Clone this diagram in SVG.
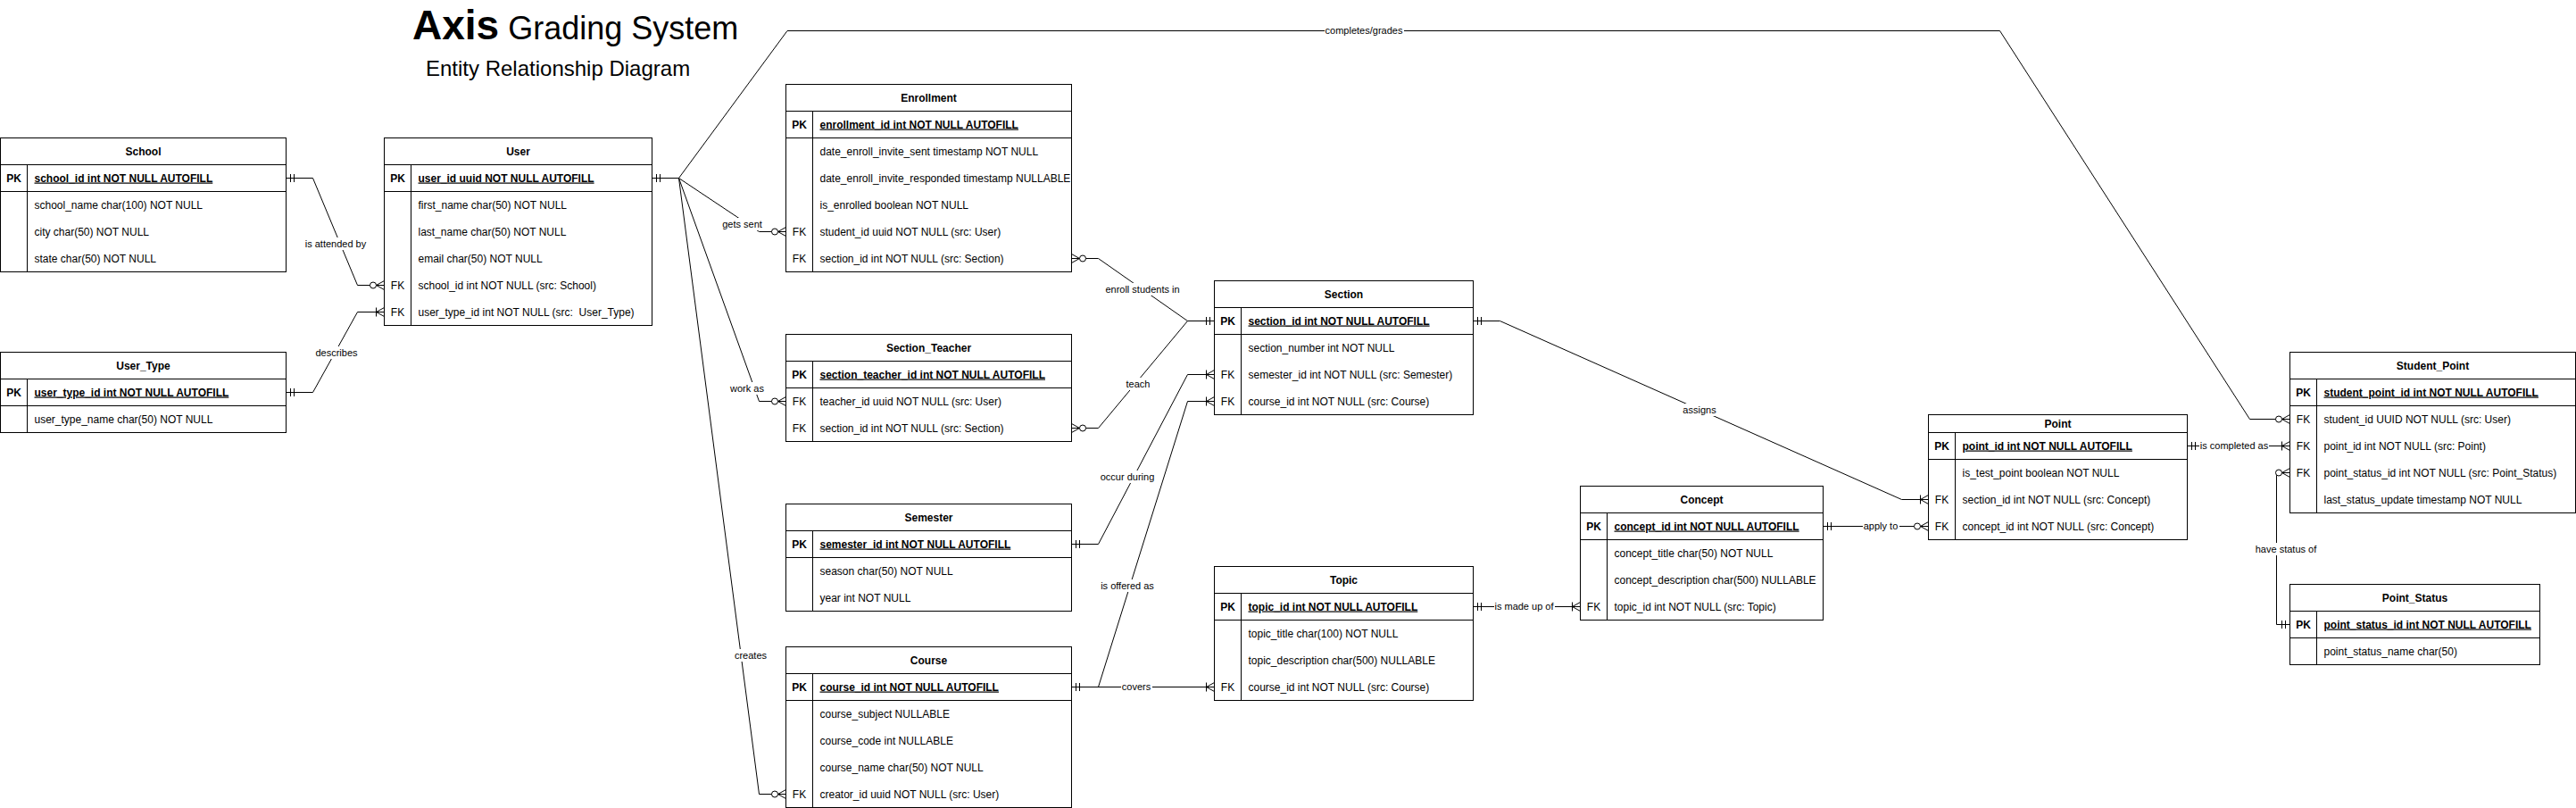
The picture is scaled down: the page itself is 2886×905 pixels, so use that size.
<svg xmlns="http://www.w3.org/2000/svg" width="2886" height="905" viewBox="0 0 2886 905">
<style>
.box{fill:#fff;stroke:#000;stroke-width:1}
.ln{fill:none;stroke:#000;stroke-width:1}
.conn{fill:none;stroke:#000;stroke-width:1}
text{font-family:"Liberation Sans",Arial,Helvetica,sans-serif;fill:#000}
.hd{font-size:12px;font-weight:bold;text-anchor:middle}
.k{font-size:12px;font-weight:bold;text-anchor:middle}
.fk{font-size:12px;text-anchor:middle}
.pk{font-size:12px;font-weight:bold;text-decoration:underline}
.f{font-size:12px;white-space:pre}
.lbl{font-size:11px;text-anchor:middle}
.lb{fill:#fff;stroke:none}
</style>
<defs>
<marker id="mOne" markerUnits="userSpaceOnUse" orient="auto-start-reverse" refX="0" refY="0" markerWidth="20" markerHeight="20" overflow="visible">
<path d="M-5,-4.5V4.5M-9,-4.5V4.5" fill="none" stroke="#000" stroke-width="1"/>
</marker>
<marker id="mZeroMany" markerUnits="userSpaceOnUse" orient="auto-start-reverse" refX="0" refY="0" markerWidth="20" markerHeight="20" overflow="visible">
<path d="M0,-5L-9,0L0,5" fill="none" stroke="#000" stroke-width="1"/>
<circle cx="-12.5" cy="0" r="3.5" fill="#fff" stroke="#000" stroke-width="1"/>
</marker>
<marker id="mOneMany" markerUnits="userSpaceOnUse" orient="auto-start-reverse" refX="0" refY="0" markerWidth="20" markerHeight="20" overflow="visible">
<path d="M0,-5L-9,0L0,5M-9,-5V5" fill="none" stroke="#000" stroke-width="1"/>
</marker>
</defs>

<g id="title">
<text x="462" y="44"><tspan font-size="46" font-weight="bold">Axis</tspan><tspan font-size="36"> Grading System</tspan></text>
<text x="477" y="85" font-size="24">Entity Relationship Diagram</text>
</g>

<g id="connectors">
<path class="conn" d="M320.5,199.5H350.5L400.5,319.5H430.5" marker-start="url(#mOne)" marker-end="url(#mZeroMany)"/>
<path class="conn" d="M320.5,439.5H350.5L400.5,349.5H430.5" marker-start="url(#mOne)" marker-end="url(#mOneMany)"/>
<path class="conn" d="M730.5,199.5H760.5L882,34.5H2240.5L2520.5,469.5H2565.5" marker-start="url(#mOne)" marker-end="url(#mZeroMany)"/>
<path class="conn" d="M730.5,199.5H760.5L850.5,259.5H880.5" marker-start="url(#mOne)" marker-end="url(#mZeroMany)"/>
<path class="conn" d="M730.5,199.5H760.5L850.5,449.5H880.5" marker-start="url(#mOne)" marker-end="url(#mZeroMany)"/>
<path class="conn" d="M730.5,199.5H760.5L850.5,889.5H880.5" marker-start="url(#mOne)" marker-end="url(#mZeroMany)"/>
<path class="conn" d="M1200.5,289.5H1230.5L1330.5,359.5H1360.5" marker-start="url(#mZeroMany)" marker-end="url(#mOne)"/>
<path class="conn" d="M1200.5,479.5H1230.5L1330.5,359.5H1360.5" marker-start="url(#mZeroMany)" marker-end="url(#mOne)"/>
<path class="conn" d="M1200.5,609.5H1230.5L1330.5,419.5H1360.5" marker-start="url(#mOne)" marker-end="url(#mOneMany)"/>
<path class="conn" d="M1200.5,769.5H1230.5L1330.5,449.5H1360.5" marker-start="url(#mOne)" marker-end="url(#mOneMany)"/>
<path class="conn" d="M1200.5,769.5H1360.5" marker-start="url(#mOne)" marker-end="url(#mOneMany)"/>
<path class="conn" d="M1650.5,359.5H1680.5L2130.5,559.5H2160.5" marker-start="url(#mOne)" marker-end="url(#mOneMany)"/>
<path class="conn" d="M1650.5,679.5H1770.5" marker-start="url(#mOne)" marker-end="url(#mOneMany)"/>
<path class="conn" d="M2042.5,589.5H2160.5" marker-start="url(#mOne)" marker-end="url(#mZeroMany)"/>
<path class="conn" d="M2450.5,499.5H2565.5" marker-start="url(#mOne)" marker-end="url(#mOneMany)"/>
<path class="conn" d="M2565.5,699.5H2550.5V529.5H2565.5" marker-start="url(#mOne)" marker-end="url(#mZeroMany)"/>

<rect class="lb" x="341" y="266" width="70" height="14"/><text class="lbl" x="376" y="277">is attended by</text>
<rect class="lb" x="353" y="388" width="49" height="14"/><text class="lbl" x="377" y="399">describes</text>
<rect class="lb" x="1484" y="27" width="89" height="14"/><text class="lbl" x="1528" y="38">completes/grades</text>
<rect class="lb" x="808" y="244" width="47" height="14"/><text class="lbl" x="831.5" y="255">gets sent</text>
<rect class="lb" x="817" y="428" width="40" height="14"/><text class="lbl" x="837" y="439">work as</text>
<rect class="lb" x="823" y="727" width="38" height="14"/><text class="lbl" x="841" y="738">creates</text>
<rect class="lb" x="1238" y="317" width="85" height="14"/><text class="lbl" x="1280" y="328">enroll students in</text>
<rect class="lb" x="1261" y="423" width="29" height="14"/><text class="lbl" x="1275" y="434">teach</text>
<rect class="lb" x="1232" y="527" width="63" height="14"/><text class="lbl" x="1263" y="538">occur during</text>
<rect class="lb" x="1232" y="649" width="62" height="14"/><text class="lbl" x="1263" y="660">is offered as</text>
<rect class="lb" x="1256" y="762" width="35" height="14"/><text class="lbl" x="1273" y="773">covers</text>
<rect class="lb" x="1885" y="452" width="39" height="14"/><text class="lbl" x="1904" y="463">assigns</text>
<rect class="lb" x="1674" y="672" width="68" height="14"/><text class="lbl" x="1707.5" y="683">is made up of</text>
<rect class="lb" x="2087" y="582" width="41" height="14"/><text class="lbl" x="2107" y="593">apply to</text>
<rect class="lb" x="2464" y="492" width="78" height="14"/><text class="lbl" x="2503" y="503">is completed as</text>
<rect class="lb" x="2526" y="608" width="70" height="14"/><text class="lbl" x="2561" y="619">have status of</text>
</g>

<g id="school">
<rect class="box" x="0.5" y="154.5" width="320" height="150"/>
<path class="ln" d="M0.5,184.5H320.5M0.5,214.5H320.5M30.5,184.5V304.5"/>
<text class="hd" x="160.5" y="173.5">School</text>
<text class="k" x="15.5" y="203.5">PK</text>
<text class="pk" x="38.5" y="203.5">school_id int NOT NULL AUTOFILL</text>
<text class="f" x="38.5" y="233.5">school_name char(100) NOT NULL</text>
<text class="f" x="38.5" y="263.5">city char(50) NOT NULL</text>
<text class="f" x="38.5" y="293.5">state char(50) NOT NULL</text>
</g>

<g id="user_type">
<rect class="box" x="0.5" y="394.5" width="320" height="90"/>
<path class="ln" d="M0.5,424.5H320.5M0.5,454.5H320.5M30.5,424.5V484.5"/>
<text class="hd" x="160.5" y="413.5">User_Type</text>
<text class="k" x="15.5" y="443.5">PK</text>
<text class="pk" x="38.5" y="443.5">user_type_id int NOT NULL AUTOFILL</text>
<text class="f" x="38.5" y="473.5">user_type_name char(50) NOT NULL</text>
</g>

<g id="user">
<rect class="box" x="430.5" y="154.5" width="300" height="210"/>
<path class="ln" d="M430.5,184.5H730.5M430.5,214.5H730.5M460.5,184.5V364.5"/>
<text class="hd" x="580.5" y="173.5">User</text>
<text class="k" x="445.5" y="203.5">PK</text>
<text class="pk" x="468.5" y="203.5">user_id uuid NOT NULL AUTOFILL</text>
<text class="f" x="468.5" y="233.5">first_name char(50) NOT NULL</text>
<text class="f" x="468.5" y="263.5">last_name char(50) NOT NULL</text>
<text class="f" x="468.5" y="293.5">email char(50) NOT NULL</text>
<text class="fk" x="445.5" y="323.5">FK</text>
<text class="f" x="468.5" y="323.5">school_id int NOT NULL (src: School)</text>
<text class="fk" x="445.5" y="353.5">FK</text>
<text class="f" x="468.5" y="353.5" xml:space="preserve">user_type_id int NOT NULL (src:  User_Type)</text>
</g>

<g id="enrollment">
<rect class="box" x="880.5" y="94.5" width="320" height="210"/>
<path class="ln" d="M880.5,124.5H1200.5M880.5,154.5H1200.5M910.5,124.5V304.5"/>
<text class="hd" x="1040.5" y="113.5">Enrollment</text>
<text class="k" x="895.5" y="143.5">PK</text>
<text class="pk" x="918.5" y="143.5">enrollment_id int NOT NULL AUTOFILL</text>
<text class="f" x="918.5" y="173.5">date_enroll_invite_sent timestamp NOT NULL</text>
<text class="f" x="918.5" y="203.5">date_enroll_invite_responded timestamp NULLABLE</text>
<text class="f" x="918.5" y="233.5">is_enrolled boolean NOT NULL</text>
<text class="fk" x="895.5" y="263.5">FK</text>
<text class="f" x="918.5" y="263.5">student_id uuid NOT NULL (src: User)</text>
<text class="fk" x="895.5" y="293.5">FK</text>
<text class="f" x="918.5" y="293.5">section_id int NOT NULL (src: Section)</text>
</g>

<g id="section_teacher">
<rect class="box" x="880.5" y="374.5" width="320" height="120"/>
<path class="ln" d="M880.5,404.5H1200.5M880.5,434.5H1200.5M910.5,404.5V494.5"/>
<text class="hd" x="1040.5" y="393.5">Section_Teacher</text>
<text class="k" x="895.5" y="423.5">PK</text>
<text class="pk" x="918.5" y="423.5">section_teacher_id int NOT NULL AUTOFILL</text>
<text class="fk" x="895.5" y="453.5">FK</text>
<text class="f" x="918.5" y="453.5">teacher_id uuid NOT NULL (src: User)</text>
<text class="fk" x="895.5" y="483.5">FK</text>
<text class="f" x="918.5" y="483.5">section_id int NOT NULL (src: Section)</text>
</g>

<g id="semester">
<rect class="box" x="880.5" y="564.5" width="320" height="120"/>
<path class="ln" d="M880.5,594.5H1200.5M880.5,624.5H1200.5M910.5,594.5V684.5"/>
<text class="hd" x="1040.5" y="583.5">Semester</text>
<text class="k" x="895.5" y="613.5">PK</text>
<text class="pk" x="918.5" y="613.5">semester_id int NOT NULL AUTOFILL</text>
<text class="f" x="918.5" y="643.5">season char(50) NOT NULL</text>
<text class="f" x="918.5" y="673.5">year int NOT NULL</text>
</g>

<g id="course">
<rect class="box" x="880.5" y="724.5" width="320" height="180"/>
<path class="ln" d="M880.5,754.5H1200.5M880.5,784.5H1200.5M910.5,754.5V904.5"/>
<text class="hd" x="1040.5" y="743.5">Course</text>
<text class="k" x="895.5" y="773.5">PK</text>
<text class="pk" x="918.5" y="773.5">course_id int NOT NULL AUTOFILL</text>
<text class="f" x="918.5" y="803.5">course_subject NULLABLE</text>
<text class="f" x="918.5" y="833.5">course_code int NULLABLE</text>
<text class="f" x="918.5" y="863.5">course_name char(50) NOT NULL</text>
<text class="fk" x="895.5" y="893.5">FK</text>
<text class="f" x="918.5" y="893.5">creator_id uuid NOT NULL (src: User)</text>
</g>

<g id="section">
<rect class="box" x="1360.5" y="314.5" width="290" height="150"/>
<path class="ln" d="M1360.5,344.5H1650.5M1360.5,374.5H1650.5M1390.5,344.5V464.5"/>
<text class="hd" x="1505.5" y="333.5">Section</text>
<text class="k" x="1375.5" y="363.5">PK</text>
<text class="pk" x="1398.5" y="363.5">section_id int NOT NULL AUTOFILL</text>
<text class="f" x="1398.5" y="393.5">section_number int NOT NULL</text>
<text class="fk" x="1375.5" y="423.5">FK</text>
<text class="f" x="1398.5" y="423.5">semester_id int NOT NULL (src: Semester)</text>
<text class="fk" x="1375.5" y="453.5">FK</text>
<text class="f" x="1398.5" y="453.5">course_id int NOT NULL (src: Course)</text>
</g>

<g id="topic">
<rect class="box" x="1360.5" y="634.5" width="290" height="150"/>
<path class="ln" d="M1360.5,664.5H1650.5M1360.5,694.5H1650.5M1390.5,664.5V784.5"/>
<text class="hd" x="1505.5" y="653.5">Topic</text>
<text class="k" x="1375.5" y="683.5">PK</text>
<text class="pk" x="1398.5" y="683.5">topic_id int NOT NULL AUTOFILL</text>
<text class="f" x="1398.5" y="713.5">topic_title char(100) NOT NULL</text>
<text class="f" x="1398.5" y="743.5">topic_description char(500) NULLABLE</text>
<text class="fk" x="1375.5" y="773.5">FK</text>
<text class="f" x="1398.5" y="773.5">course_id int NOT NULL (src: Course)</text>
</g>

<g id="concept">
<rect class="box" x="1770.5" y="544.5" width="272" height="150"/>
<path class="ln" d="M1770.5,574.5H2042.5M1770.5,604.5H2042.5M1800.5,574.5V694.5"/>
<text class="hd" x="1906.5" y="563.5">Concept</text>
<text class="k" x="1785.5" y="593.5">PK</text>
<text class="pk" x="1808.5" y="593.5">concept_id int NOT NULL AUTOFILL</text>
<text class="f" x="1808.5" y="623.5">concept_title char(50) NOT NULL</text>
<text class="f" x="1808.5" y="653.5">concept_description char(500) NULLABLE</text>
<text class="fk" x="1785.5" y="683.5">FK</text>
<text class="f" x="1808.5" y="683.5">topic_id int NOT NULL (src: Topic)</text>
</g>

<g id="point">
<rect class="box" x="2160.5" y="464.5" width="290" height="140"/>
<path class="ln" d="M2160.5,484.5H2450.5M2160.5,514.5H2450.5M2190.5,484.5V604.5"/>
<text class="hd" x="2305.5" y="478.5">Point</text>
<text class="k" x="2175.5" y="503.5">PK</text>
<text class="pk" x="2198.5" y="503.5">point_id int NOT NULL AUTOFILL</text>
<text class="f" x="2198.5" y="533.5">is_test_point boolean NOT NULL</text>
<text class="fk" x="2175.5" y="563.5">FK</text>
<text class="f" x="2198.5" y="563.5">section_id int NOT NULL (src: Concept)</text>
<text class="fk" x="2175.5" y="593.5">FK</text>
<text class="f" x="2198.5" y="593.5">concept_id int NOT NULL (src: Concept)</text>
</g>

<g id="student_point">
<rect class="box" x="2565.5" y="394.5" width="320" height="180"/>
<path class="ln" d="M2565.5,424.5H2885.5M2565.5,454.5H2885.5M2595.5,424.5V574.5"/>
<text class="hd" x="2725.5" y="413.5">Student_Point</text>
<text class="k" x="2580.5" y="443.5">PK</text>
<text class="pk" x="2603.5" y="443.5">student_point_id int NOT NULL AUTOFILL</text>
<text class="fk" x="2580.5" y="473.5">FK</text>
<text class="f" x="2603.5" y="473.5">student_id UUID NOT NULL (src: User)</text>
<text class="fk" x="2580.5" y="503.5">FK</text>
<text class="f" x="2603.5" y="503.5">point_id int NOT NULL (src: Point)</text>
<text class="fk" x="2580.5" y="533.5">FK</text>
<text class="f" x="2603.5" y="533.5">point_status_id int NOT NULL (src: Point_Status)</text>
<text class="f" x="2603.5" y="563.5">last_status_update timestamp NOT NULL</text>
</g>

<g id="point_status">
<rect class="box" x="2565.5" y="654.5" width="280" height="90"/>
<path class="ln" d="M2565.5,684.5H2845.5M2565.5,714.5H2845.5M2595.5,684.5V744.5"/>
<text class="hd" x="2705.5" y="673.5">Point_Status</text>
<text class="k" x="2580.5" y="703.5">PK</text>
<text class="pk" x="2603.5" y="703.5">point_status_id int NOT NULL AUTOFILL</text>
<text class="f" x="2603.5" y="733.5">point_status_name char(50)</text>
</g>
</svg>
